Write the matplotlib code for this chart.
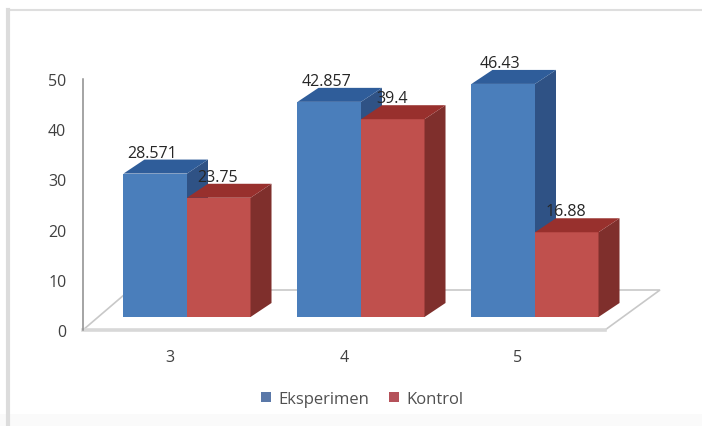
import matplotlib
matplotlib.use("Agg")
import matplotlib.pyplot as plt
from matplotlib.lines import Line2D
from matplotlib.patches import Polygon, Rectangle
from matplotlib.transforms import Affine2D

categories = ["3", "4", "5"]
eksperimen = [28.571, 42.857, 46.43]
kontrol = [23.75, 39.4, 16.88]
eksperimen_labels = ["28.571", "42.857", "46.43"]
kontrol_labels = ["23.75", "39.4", "16.88"]
y_ticks = [0, 10, 20, 30, 40, 50]

W, H = 702, 427
plt.rcParams["font.family"] = ["Open Sans", "DejaVu Sans"]
fig = plt.figure(figsize=(W / 100, H / 100), dpi=100, facecolor="white")

# Chart frame: only the top and left edges show, plus a pale strip along the bottom
fig.add_artist(Rectangle((0, 0), 1, 12 / H, transform=fig.transFigure, fc="#fafafa", ec="none"))
fig.add_artist(Line2D([8 / W, 1], [1 - 11 / H, 1 - 11 / H], transform=fig.transFigure,
                      color="#dedede", lw=1.5))
fig.add_artist(Line2D([8 / W, 8 / W], [0, 1 - 11 / H], transform=fig.transFigure,
                      color="#dcdcdc", lw=3))

# Axes span the front edge of the floor
left, right, top, bottom = 83, 605, 80, 331
ax = fig.add_axes([left / W, 1 - bottom / H, (right - left) / W, (bottom - top) / H])
ax.set_xlim(-0.5, 2.5)
ax.set_ylim(0, 50)
ax.patch.set_alpha(0)
for s in ("top", "right", "bottom"):
    ax.spines[s].set_visible(False)
ax.spines["left"].set_color("#8c8c8c")
ax.spines["left"].set_linewidth(1.1)
ax.set_xticks(range(len(categories)), categories)
ax.set_yticks(y_ticks)
ax.tick_params(axis="both", length=0, labelsize=11.5, labelcolor="#404040")
ax.tick_params(axis="x", pad=14)
ax.tick_params(axis="y", pad=12)

# Pixel offsets that push marks back into the depth of the plot
unit_x = (right - left) / 3
unit_y = (bottom - top) / 50
DEPTH_X, DEPTH_Y = 21 / unit_x, 14 / unit_y
FLOOR_X, FLOOR_Y = 55 / unit_x, 40 / unit_y
plane = ax.transData + Affine2D().translate(17, 13)

# Floor
x0, x1 = -0.5, 2.5
ax.add_patch(Polygon([(x0, 0), (x1, 0), (x1 + FLOOR_X, FLOOR_Y), (x0 + FLOOR_X * 0.85, FLOOR_Y)],
                     closed=True, fc="white", ec="#c8c8c8", lw=1.2, clip_on=False, zorder=1))
ax.plot([x0, x1], [0, 0], color="#d8d8d8", lw=2.6, clip_on=False, zorder=1.1)

BAR_W = 0.365


def draw_bar(x, value, front, side, roof, z):
    a, b = x - BAR_W, x
    ax.bar(x - BAR_W / 2, value, BAR_W, color=front, transform=plane, clip_on=False, zorder=z)
    ax.add_patch(Polygon([(b, 0), (b + DEPTH_X, DEPTH_Y), (b + DEPTH_X, value + DEPTH_Y), (b, value)],
                         closed=True, fc=side, ec="none", transform=plane, clip_on=False, zorder=z))
    ax.add_patch(Polygon([(a, value), (a + DEPTH_X, value + DEPTH_Y), (b + DEPTH_X, value + DEPTH_Y), (b, value)],
                         closed=True, fc=roof, ec="none", transform=plane, clip_on=False, zorder=z))


for i in range(len(categories)):
    draw_bar(i, eksperimen[i], "#4a7ebb", "#2f5285", "#2f5d9a", 3)
    draw_bar(i + BAR_W, kontrol[i], "#c0504d", "#7f2f2c", "#98302d", 4)
    for x, v, s in ((i - BAR_W / 2 - 0.017, eksperimen[i], eksperimen_labels[i]),
                    (i + BAR_W / 2 - 0.006, kontrol[i], kontrol_labels[i])):
        ax.text(x, v + 21 / unit_y, s, transform=plane, ha="center", va="center",
                fontsize=11.5, color="#262626", clip_on=False, zorder=6)

# Legend
handles = [Rectangle((0, 0), 1, 1, fc="#5a78a8"), Rectangle((0, 0), 1, 1, fc="#b5525a")]
fig.legend(handles, ["Eksperimen", "Kontrol"], loc="center", ncol=2, frameon=False,
           bbox_to_anchor=(362 / W, 1 - 400 / H), fontsize=12, labelcolor="#505050",
           handlelength=0.6, handleheight=0.6, handletextpad=0.45, columnspacing=1.2)

fig.savefig("out.png", dpi=100)
